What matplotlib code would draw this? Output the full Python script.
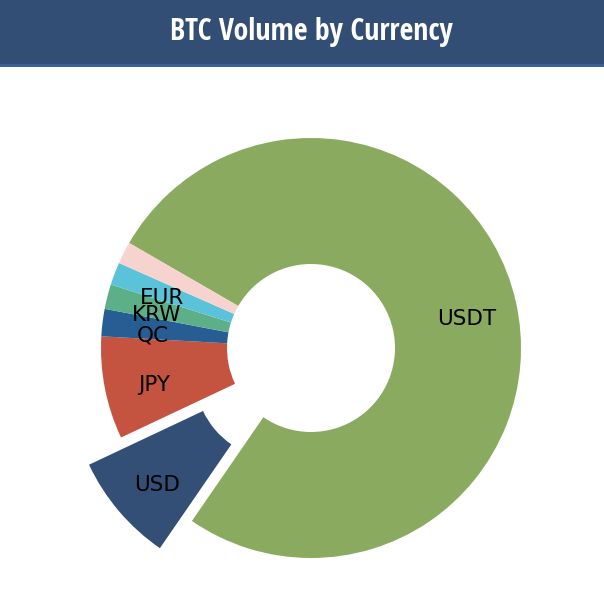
import matplotlib.pyplot as plt
from matplotlib.patches import Rectangle

# BTC volume share by currency (%)
currencies = ["USDT", "USD", "JPY", "QC", "KRW", "EUR", ""]
shares = [76.3, 8.4, 7.9, 2.1, 1.9, 1.75, 1.7]
colors = ["#8aab5f", "#334f76", "#c4533f", "#265e94", "#5daf88", "#5bc3d9", "#f7d3d0"]
explode = [0, 0.2, 0, 0, 0, 0, 0]

W, H, R = 604, 612, 210
cx, cy = 311, 348

fig = plt.figure(figsize=(W / 100, H / 100), dpi=100)

# title bar
fig.patches.append(Rectangle((0, 1 - 64 / H), 1, 64 / H, transform=fig.transFigure,
                             facecolor="#334e75", edgecolor="none", zorder=0))
fig.patches.append(Rectangle((0, 1 - 67 / H), 1, 3 / H, transform=fig.transFigure,
                             facecolor="#3a5f99", edgecolor="none", zorder=0))
fig.text(311 / W, 1 - 32 / H, "BTC Volume by Currency", color="white", fontsize=21.5,
         fontweight="bold", ha="center", va="center",
         family=["Open Sans Condensed", "Roboto Condensed", "Roboto"])

ax = fig.add_axes([0, 0, 1, 1])
wedges, texts = ax.pie(shares, labels=currencies, colors=colors, explode=explode,
                       startangle=150, counterclock=False, labeldistance=0.76,
                       wedgeprops=dict(width=0.6),
                       textprops=dict(fontsize=15.5, color="black"))
# labels sit centred, a little below the anchor point
for t in texts:
    x, y = t.get_position()
    t.set_position((x, y - 6.5 / R))
    t.set_ha("center")

ax.set_xlim(-cx / R, (W - cx) / R)
ax.set_ylim(-(H - cy) / R, cy / R)
ax.set_aspect("equal")
ax.axis("off")

fig.savefig("out.png", dpi=100)
